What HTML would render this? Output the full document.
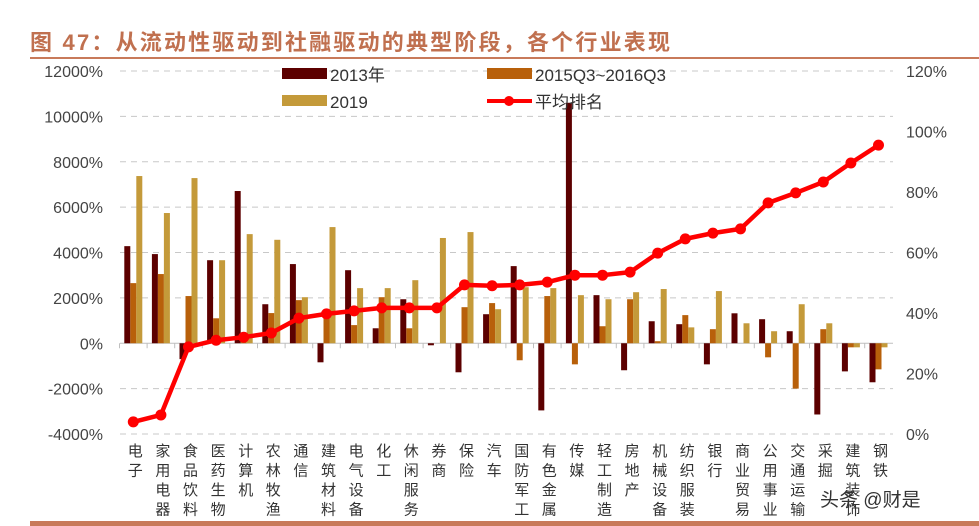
<!DOCTYPE html>
<html><head><meta charset="utf-8">
<style>
body{margin:0;width:979px;height:526px;overflow:hidden;background:#fff;font-family:"Liberation Sans","Noto Sans CJK SC",sans-serif;}
#title{position:absolute;left:30px;top:25px;font-size:22px;letter-spacing:2.2px;font-weight:bold;color:#c0704f;white-space:nowrap;font-family:"Liberation Sans","Noto Sans CJK SC",sans-serif;}
</style></head><body>
<div id="title">图 47：从流动性驱动到社融驱动的典型阶段，各个行业表现</div>
<svg id="c" width="979" height="526" style="position:absolute;left:0;top:0"></svg>
<script>
const categories=["电子","家用电器","食品饮料","医药生物","计算机","农林牧渔","通信","建筑材料","电气设备","化工","休闲服务","券商","保险","汽车","国防军工","有色金属","传媒","轻工制造","房地产","机械设备","纺织服装","银行","商业贸易","公用事业","交通运输","采掘","建筑装饰","钢铁"];
const s2013=[4280,3930,-700,3660,6710,1720,3490,-840,3220,660,1940,-90,-1280,1280,3400,-2960,10600,2120,-1190,970,840,-930,1320,1060,530,-3140,-1240,-1720];
const s2015=[2650,3050,2080,1100,50,1330,1900,1460,800,2030,660,0,1590,1770,-750,2080,-930,750,1940,90,1240,620,0,-620,-2000,620,-180,-1150];
const s2019=[7370,5740,7280,3660,4810,4560,2030,5120,2430,2430,2780,4640,4900,1500,2470,2430,2120,1940,2250,2390,700,2300,880,530,1720,880,-180,-180];
const rank=[4,6.3,28.8,31,32,33.4,38.3,39.7,40.7,41.7,41.7,41.7,49.3,49,49.3,50.2,52.5,52.5,53.5,59.8,64.5,66.4,67.8,76.4,79.7,83.3,89.6,95.5];
const leftTicks=[-4000,-2000,0,2000,4000,6000,8000,10000,12000];
const rightTicks=[0,20,40,60,80,100,120];
const NS="http://www.w3.org/2000/svg";
const svg=document.getElementById('c');
const x0=119.5,step=27.6,yTop=71,yBot=434;
const yL=v=>yBot-(v+4000)/16000*(yBot-yTop);
const yR=v=>yBot-v/120*(yBot-yTop);
const xc=i=>x0+step*(i+0.5);
function el(t,a,p){const e=document.createElementNS(NS,t);for(const k in a)e.setAttribute(k,a[k]);(p||svg).appendChild(e);return e;}
let u=el('line',{x1:30,x2:979,y1:58,y2:58,stroke:'#c87a5a','stroke-width':2});

let b=el('rect',{x:30,y:521,width:949,height:5,fill:'#c87a5a'});

leftTicks.forEach(v=>{
 if(v!==0){const g=el('line',{x1:120,x2:893,y1:yL(v),y2:yL(v),stroke:'#c8c8c8','stroke-dasharray':'6,5'});
 }
 const t=el('text',{x:103,y:yL(v)+6,'text-anchor':'end','font-size':16,fill:'#444'});t.textContent=v+'%';
 
});
rightTicks.forEach(v=>{
 const t=el('text',{x:906,y:yR(v)+6,'font-size':16,fill:'#444'});t.textContent=v+'%';
 
});
const ax=el('line',{x1:120,x2:893,y1:yL(0),y2:yL(0),stroke:'#bfbfbf','stroke-width':1});

const series=[[s2013,'#5c0000','bar-2013'],[s2015,'#b8600a','bar-2015q3-2016q3'],[s2019,'#c49a3a','bar-2019']];
const bw=6;
categories.forEach((c,i)=>{
 const tk=el('line',{x1:x0+step*i,x2:x0+step*i,y1:yL(0),y2:yL(0)+5,stroke:'#bfbfbf'});
 
 series.forEach((s,j)=>{
  const v=s[0][i];const y0=yL(0),y1=yL(v);
  const r=el('rect',{x:xc(i)-9+j*bw,y:Math.min(y0,y1),width:bw,height:Math.max(Math.abs(y1-y0),0.01),fill:s[1]});
  
 });
 const t=el('text',{x:xc(i)+1,y:443,'font-size':15,fill:'#333',style:'writing-mode:vertical-rl;letter-spacing:4.5px'});
 t.textContent=c;
 
});
const pts=rank.map((v,i)=>xc(i)+','+yR(v)).join(' ');
const pl=el('polyline',{points:pts,fill:'none',stroke:'#ff0000','stroke-width':4.5,'stroke-linejoin':'round'});

rank.forEach((v,i)=>{const d=el('circle',{cx:xc(i),cy:yR(v),r:5.5,fill:'#ff0000'});
 });
function leg(x,y,color,label,line){
 if(line){const l=el('line',{x1:x,x2:x+45,y1:y,y2:y,stroke:'#ff0000','stroke-width':4});
  const c=el('circle',{cx:x+22,cy:y,r:5,fill:'#ff0000'});}
 else{const r=el('rect',{x:x,y:y-6,width:45,height:11,fill:color});}
 const t=el('text',{x:x+48,y:y+7,'font-size':17,fill:'#333'});t.textContent=label;
 
}
leg(282,74,'#5c0000','2013年');
leg(487,74,'#b8600a','2015Q3~2016Q3');
leg(282,101,'#c49a3a','2019');
leg(487,101,'#ff0000','平均排名',true);
const w=el('text',{x:820,y:506,'font-size':19,fill:'#333'});w.textContent='头条 @财是';

</script>
</body></html>
